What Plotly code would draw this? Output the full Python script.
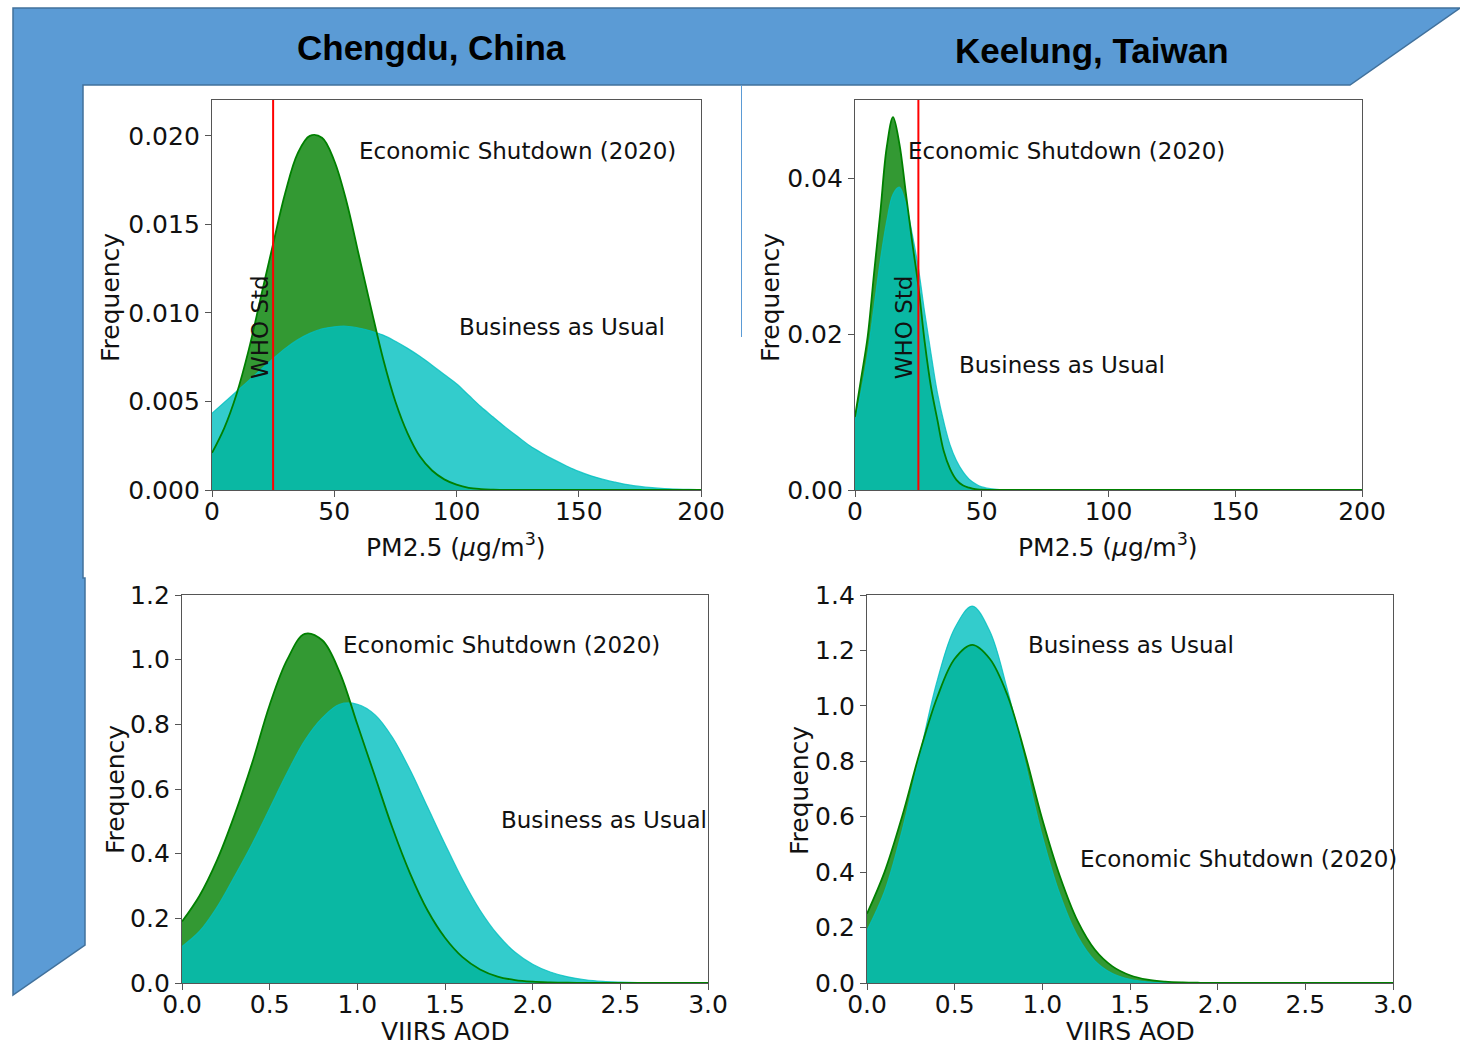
import plotly.graph_objects as go

# ---------------- data ----------------
pm_x = [0, 5, 10, 15, 20, 25, 30, 35, 40, 45, 50, 55, 60, 65, 70, 75, 80, 85, 90, 95,
        100, 105, 110, 115, 120, 125, 130, 135, 140, 145, 150, 155, 160, 165, 170, 175,
        180, 185, 190, 195, 200]
chengdu_pm_shutdown = [0.0021, 0.0035, 0.0054, 0.0079, 0.0109, 0.0139, 0.0168, 0.0190, 0.0200, 0.0199,
                       0.0186, 0.0163, 0.0133, 0.0103, 0.0074, 0.0050, 0.0032, 0.0019, 0.0011, 0.0006,
                       0.0003, 0.00012, 0.00005, 0.00002, 0, 0, 0, 0, 0, 0, 0, 0, 0, 0, 0, 0,
                       0, 0, 0, 0, 0]
chengdu_pm_bau = [0.00433, 0.00495, 0.00556, 0.00618, 0.00680, 0.00742, 0.00800, 0.00848, 0.00885, 0.00910,
                  0.00922, 0.00925, 0.00915, 0.00898, 0.00875, 0.00840, 0.00800, 0.00755, 0.00705, 0.00652,
                  0.00600, 0.00535, 0.00470, 0.00412, 0.00355, 0.00302, 0.00250, 0.00208, 0.00170, 0.00136,
                  0.00105, 0.00080, 0.00060, 0.00044, 0.00030, 0.00020, 0.00013, 0.00008, 0.00005, 0.00003,
                  0.00002]

keelung_pm_x = [0, 2.5, 5, 7.5, 10, 12.5, 15, 17.5, 20, 22.5, 25, 27.5, 30, 32.5, 35, 37.5, 40,
                42.5, 45, 47.5, 50, 55, 60, 70, 80, 100, 150, 200]
keelung_pm_shutdown = [0.0094, 0.0145, 0.0197, 0.0278, 0.0357, 0.0440, 0.0479, 0.0445, 0.0383, 0.0320,
                       0.0262, 0.0190, 0.0132, 0.0090, 0.0050, 0.0027, 0.0013,
                       0.0006, 0.0003, 0.0001, 0.00005, 0, 0, 0, 0, 0, 0, 0]
keelung_pm_bau = [0.0088, 0.0128, 0.0175, 0.0235, 0.0295, 0.0345, 0.0380, 0.0389, 0.0368, 0.0330,
                  0.0285, 0.0228, 0.0175, 0.0125, 0.0088, 0.0058, 0.0038,
                  0.0024, 0.0014, 0.0008, 0.0004, 0.0001, 0, 0, 0, 0, 0, 0]

aod_x = [0.0, 0.1, 0.2, 0.3, 0.4, 0.5, 0.6, 0.7, 0.8, 0.9, 1.0, 1.1, 1.2, 1.3, 1.4, 1.5,
         1.6, 1.7, 1.8, 1.9, 2.0, 2.1, 2.2, 2.3, 2.4, 2.5, 2.6, 2.7, 2.8, 2.9, 3.0]
chengdu_aod_shutdown = [0.19, 0.27, 0.38, 0.52, 0.68, 0.86, 1.00, 1.08, 1.06, 0.96, 0.80, 0.64, 0.48, 0.34,
                        0.225, 0.14, 0.08, 0.042, 0.02, 0.009, 0.004, 0.0018, 0.0007, 0.0003, 0.0001,
                        0, 0, 0, 0, 0, 0]
chengdu_aod_bau = [0.113, 0.16, 0.235, 0.33, 0.43, 0.54, 0.65, 0.75, 0.82, 0.862, 0.862, 0.83, 0.76, 0.66,
                   0.545, 0.43, 0.32, 0.225, 0.15, 0.095, 0.058, 0.034, 0.019, 0.010, 0.005, 0.0025,
                   0.001, 0.0005, 0.0002, 0.0001, 0]
keelung_aod_shutdown = [0.25, 0.40, 0.60, 0.83, 1.03, 1.17, 1.22, 1.17, 1.04, 0.83, 0.59, 0.385, 0.225, 0.12,
                        0.06, 0.028, 0.012, 0.005, 0.002, 0.0008, 0.0003, 0.0001, 0, 0, 0, 0, 0, 0, 0, 0, 0]
keelung_aod_bau = [0.19, 0.33, 0.55, 0.82, 1.09, 1.28, 1.36, 1.27, 1.06, 0.80, 0.53, 0.32, 0.17, 0.08,
                   0.034, 0.013, 0.004, 0.001, 0.0003, 0, 0, 0, 0, 0, 0, 0, 0, 0, 0, 0, 0]

who_std = 25
pm_ticks = [0, 50, 100, 150, 200]
aod_ticks = [0.0, 0.5, 1.0, 1.5, 2.0, 2.5, 3.0]

# ---------------- layout helpers ----------------
W, H = 1460, 1046
def px(x): return x / W
def py(y): return 1 - y / H

GREEN_FILL = "rgba(0,128,0,0.8)"
CYAN_FILL = "rgba(0,191,191,0.8)"
GREEN_LINE = "#008000"
FONT = "DejaVu Sans, Verdana, sans-serif"
TICK = 25
LBL = 23

fig = go.Figure()

panels = [
    ("x", "y", pm_x, chengdu_pm_shutdown, pm_x, chengdu_pm_bau),
    ("x2", "y2", keelung_pm_x, keelung_pm_shutdown, keelung_pm_x, keelung_pm_bau),
    ("x3", "y3", aod_x, chengdu_aod_shutdown, aod_x, chengdu_aod_bau),
    ("x4", "y4", aod_x, keelung_aod_shutdown, aod_x, keelung_aod_bau),
]
for xa, ya, gx, gy, cx, cy in panels:
    fig.add_trace(go.Scatter(x=gx, y=gy, xaxis=xa, yaxis=ya, mode="lines", fill="tozeroy",
                             fillcolor=GREEN_FILL, line=dict(width=0, shape="spline", smoothing=1.0),
                             hoverinfo="skip", showlegend=False))
    fig.add_trace(go.Scatter(x=cx, y=cy, xaxis=xa, yaxis=ya, mode="lines", fill="tozeroy",
                             fillcolor=CYAN_FILL, line=dict(width=1.2, color=CYAN_FILL, shape="spline", smoothing=1.0),
                             hoverinfo="skip", showlegend=False))
    fig.add_trace(go.Scatter(x=gx, y=gy, xaxis=xa, yaxis=ya, mode="lines",
                             line=dict(width=1.8, color=GREEN_LINE, shape="spline", smoothing=1.0),
                             hoverinfo="skip", showlegend=False))

for xa, ya in [("x", "y"), ("x2", "y2")]:
    fig.add_shape(type="line", xref=xa, yref=f"{ya} domain", x0=who_std, x1=who_std, y0=0, y1=1,
                  line=dict(color="red", width=2), layer="above")


def axis(dom, rng, ticks, fmt, anchor, standoff=0):
    return dict(domain=dom, range=rng, tickvals=ticks, tickformat=fmt, anchor=anchor,
                showline=True, mirror=True, linecolor="#555", linewidth=1.3,
                ticks="outside", ticklen=6, tickwidth=1.2, tickcolor="#555",
                ticklabelstandoff=standoff,
                showgrid=False, zeroline=False, fixedrange=True, automargin=False,
                tickfont=dict(family=FONT, size=TICK, color="#111"))

top_dom = [py(490), py(100)]
bot_dom = [py(983), py(595)]

fig.update_layout(
    xaxis=axis([px(212), px(701)], [0, 200], pm_ticks, "d", "y", -7),
    yaxis=axis(top_dom, [0, 0.02203], [0, 0.005, 0.010, 0.015, 0.020], ".3f", "x"),
    xaxis2=axis([px(855), px(1362)], [0, 200], pm_ticks, "d", "y2", -7),
    yaxis2=axis(top_dom, [0, 0.0501], [0, 0.02, 0.04], ".2f", "x2"),
    xaxis3=axis([px(182), px(708)], [0, 3], aod_ticks, ".1f", "y3", -7),
    yaxis3=axis(bot_dom, [0, 1.2], [0, 0.2, 0.4, 0.6, 0.8, 1.0, 1.2], ".1f", "x3"),
    xaxis4=axis([px(867), px(1393)], [0, 3], aod_ticks, ".1f", "y4", -7),
    yaxis4=axis(bot_dom, [0, 1.4], [0, 0.2, 0.4, 0.6, 0.8, 1.0, 1.2, 1.4], ".1f", "x4"),
)

# ---------------- background banner ----------------
banner = [(13, 8), (1460, 8), (1350, 85), (83, 85), (83, 578), (85, 578), (85, 945), (13, 995)]
path = "M " + " L ".join(f"{px(x):.5f},{py(y):.5f}" for x, y in banner) + " Z"
fig.add_shape(type="path", xref="paper", yref="paper", path=path,
              fillcolor="#5B9BD5", line=dict(color="#41719C", width=1.5), layer="below")
fig.add_shape(type="line", xref="paper", yref="paper", x0=px(741.5), x1=px(741.5), y0=py(85), y1=py(337),
              line=dict(color="#5B9BD5", width=1), layer="below")

ann = []
def text(t, x, y, xref="paper", yref="paper", size=LBL, angle=0, xanchor="center", yanchor="middle",
         family=FONT, color="#111"):
    ann.append(dict(text=t, x=x, y=y, xref=xref, yref=yref, showarrow=False, textangle=angle,
                    xanchor=xanchor, yanchor=yanchor, font=dict(family=family, size=size, color=color)))

TITLE_FONT = "Liberation Sans, Arial, sans-serif"
text("<b>Chengdu, China</b>", px(431), py(47), size=35, family=TITLE_FONT, color="#000")
text("<b>Keelung, Taiwan</b>", px(1092), py(50), size=35, family=TITLE_FONT, color="#000")

# axis titles
for X, Y in [(110, 298), (770, 298), (115, 790), (799, 790)]:
    text("Frequency", px(X), py(Y), size=TICK, angle=-90)
text("PM2.5 (<i>μ</i>g/m<sup>3</sup>)", px(456), py(545), size=TICK)
text("PM2.5 (<i>μ</i>g/m<sup>3</sup>)", px(1108), py(545), size=TICK)
text("VIIRS AOD", px(445), py(1031), size=TICK)
text("VIIRS AOD", px(1130), py(1031), size=TICK)

# in-plot labels
text("Economic Shutdown (2020)", 59.5, 0.01915, "x", "y", xanchor="left")
text("Business as Usual", 100, 0.0092, "x", "y", xanchor="left")
text("WHO Std", 19.6, 0.0092, "x", "y", angle=-90)
text("Economic Shutdown (2020)", 20.1, 0.0436, "x2", "y2", xanchor="left")
text("Business as Usual", 40.2, 0.0161, "x2", "y2", xanchor="left")
text("WHO Std", 19.3, 0.0209, "x2", "y2", angle=-90)
text("Economic Shutdown (2020)", 0.907, 1.045, "x3", "y3", xanchor="left")
text("Business as Usual", 1.808, 0.504, "x3", "y3", xanchor="left")
text("Business as Usual", 0.907, 1.22, "x4", "y4", xanchor="left")
text("Economic Shutdown (2020)", 1.204, 0.447, "x4", "y4", xanchor="left")

fig.update_layout(annotations=ann, width=W, height=H,
                  margin=dict(l=0, r=0, t=0, b=0, pad=0, autoexpand=False),
                  paper_bgcolor="white", plot_bgcolor="white", showlegend=False)

fig.write_html("out.html", config={"displayModeBar": False},
               post_script="document.body.style.margin='0px';document.body.style.overflow='hidden';")
